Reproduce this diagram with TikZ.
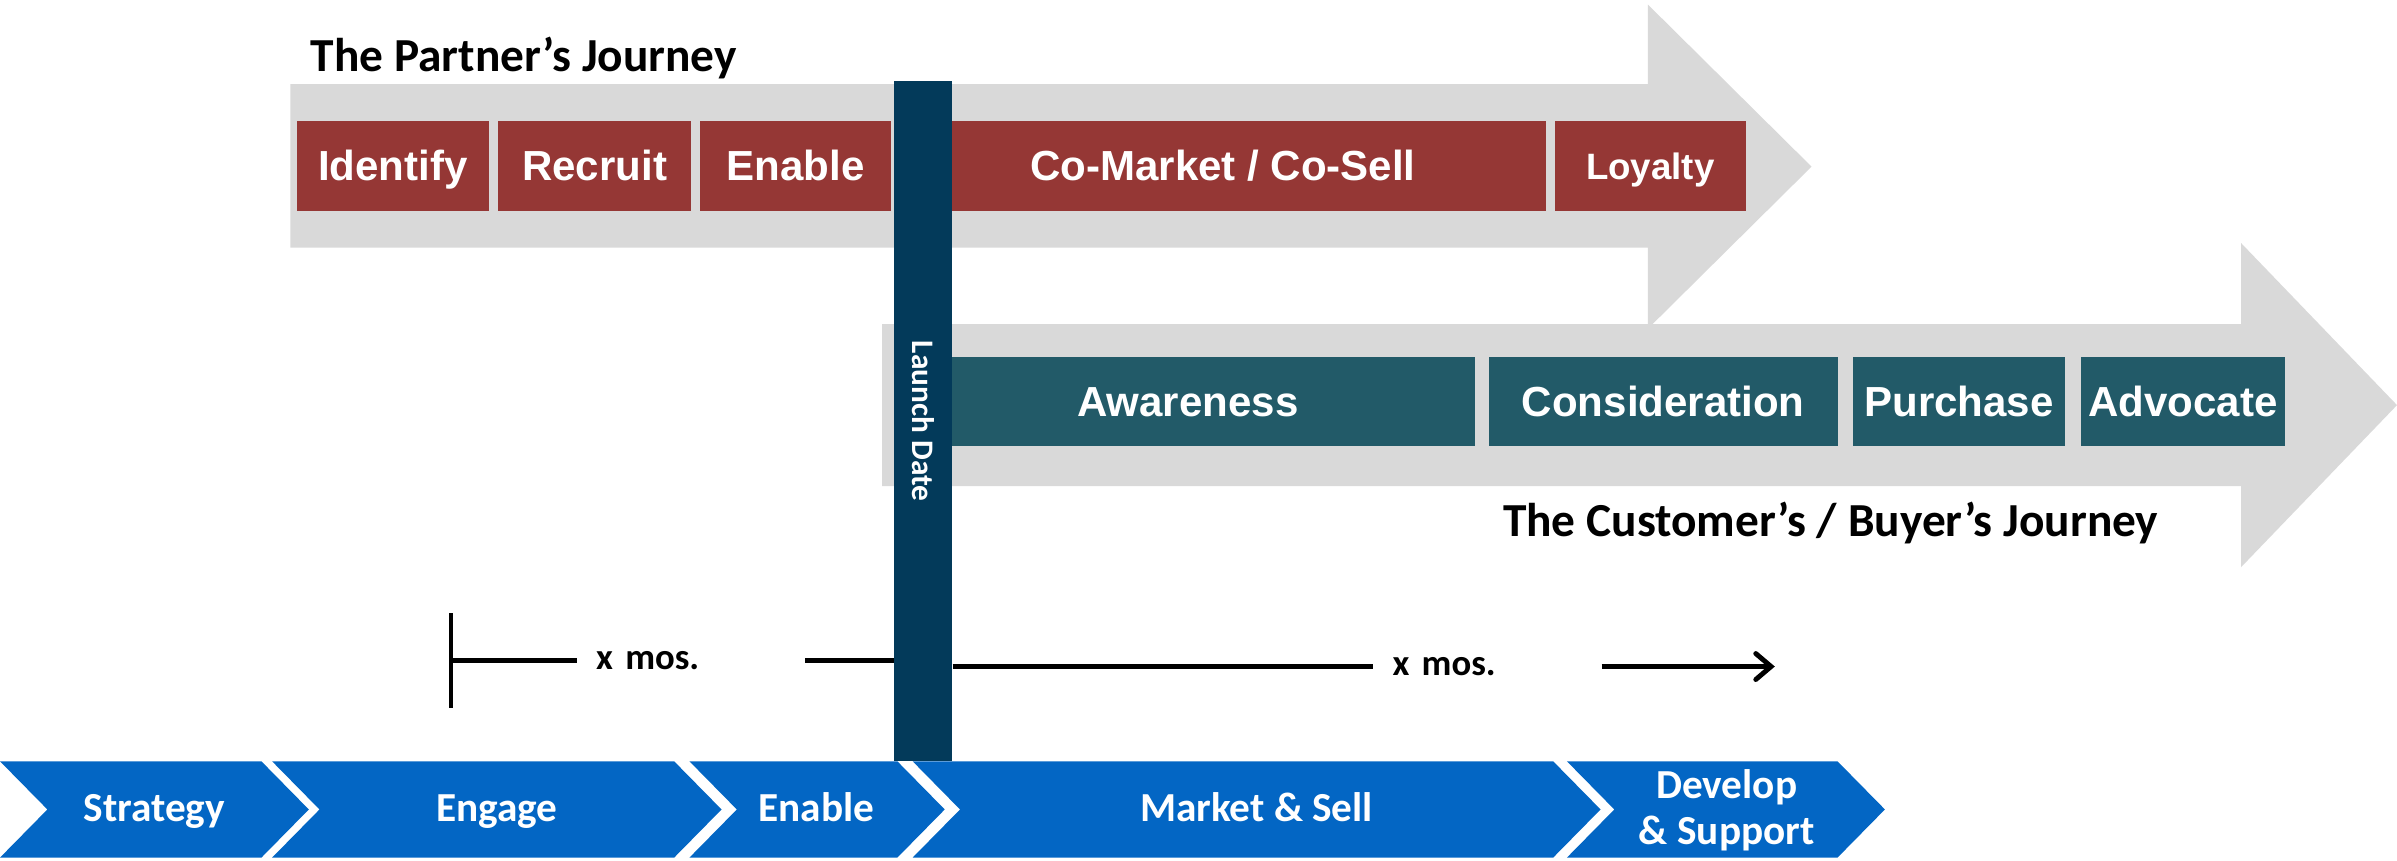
\documentclass[tikz,border=0pt]{standalone}
\usepackage{fontspec}
\newfontfamily\cali{Carlito}
\newfontfamily\aria{Liberation Sans}
\usetikzlibrary{arrows.meta}

\definecolor{arrowgray}{HTML}{D9D9D9}
\definecolor{partnerred}{HTML}{953735}
\definecolor{buyerteal}{HTML}{225A68}
\definecolor{launchnavy}{HTML}{033A5A}
\definecolor{phaseblue}{HTML}{0366C4}

\begin{document}
\begin{tikzpicture}[x=1pt, y=-1pt,
  stage/.style={inner sep=0pt, text height=19.5pt, text depth=0pt, text=white, font=\aria\bfseries\fontsize{27.5}{30}\selectfont},
  partner/.style={stage, fill=partnerred, minimum height=59pt},
  buyer/.style={stage, fill=buyerteal, minimum height=58.5pt},
  journey/.style={inner sep=0pt, anchor=base west, font=\cali\bfseries\fontsize{31}{36}\selectfont},
  phaselabel/.style={inner sep=0pt, text=white, align=center, font=\cali\bfseries\fontsize{27}{29.6}\selectfont},
  timeline/.style={line width=3.2pt},
  mos/.style={inner xsep=12.5pt, inner ysep=0pt, text width=124pt, align=left, font=\cali\bfseries\fontsize{24}{28}\selectfont}]

\useasboundingbox (0,0) rectangle (1568,563);

% partner journey arrow
\fill[arrowgray] (190,55) -- (1078,55) -- (1078,3) -- (1185,109) -- (1078,215) -- (1078,162) -- (190,162) -- cycle;
\node[journey] (partnertitle) at (203,47) {The Partner’s Journey};

% customer journey arrow
\fill[arrowgray] (577,212) -- (1466,212) -- (1466,159) -- (1568,265) -- (1466,371) -- (1466,318) -- (577,318) -- cycle;
\node[journey] (buyertitle) at (983,351) {The Customer’s / Buyer’s Journey};

% partner stages
\node[partner, minimum width=126pt] (identify) at (257,108.5) {Identify};
\node[partner, minimum width=126pt] (recruit) at (389,108.5) {Recruit};
\node[partner, minimum width=125pt] (enable) at (520.5,108.5) {Enable};
\node[partner, minimum width=422pt] (comarket) at (800,108.5) {Co-Market / Co-Sell};
\node[partner, minimum width=125pt, text height=17.2pt, font=\aria\bfseries\fontsize{24}{28}\selectfont] (loyalty) at (1079.5,108.5) {Loyalty};

% buyer stages
\node[buyer, minimum width=376pt] (awareness) at (777,262.75) {Awareness};
\node[buyer, minimum width=228pt] (consideration) at (1088,262.75) {Consideration};
\node[buyer, minimum width=139pt] (purchase) at (1281.5,262.75) {Purchase};
\node[buyer, minimum width=134pt] (advocate) at (1428,262.75) {Advocate};

% launch date bar
\node[fill=launchnavy, inner sep=0pt, minimum width=38pt, minimum height=445pt] (launch) at (604,275.5) {};
\node[rotate=-90, inner sep=0pt, text=white, font=\cali\bfseries\fontsize{20.5}{24}\selectfont] (launchlabel) at (launch) {Launch Date};

% program phases
\foreach \l/\r in {0/171, 178/441, 451/587, 597/1016, 1025/1202}
  \fill[phaseblue] (\l,498) -- (\r,498) -- (\r+31,529.5) -- (\r,561) -- (\l,561) -- (\l+31,529.5) -- cycle;
\node[phaselabel, anchor=base] (strategy) at (101,537.5) {Strategy};
\node[phaselabel, anchor=base] (engage) at (325,537.5) {Engage};
\node[phaselabel, anchor=base] (enablephase) at (534,537.5) {Enable};
\node[phaselabel, anchor=base] (marketsell) at (822,537.5) {Market \& Sell};
\node[phaselabel] (develop) at (1129.5,530) {Develop\\\& Support};

% months before and after launch
\draw[timeline] (295,401) -- (295,463);
\coordinate (start) at (295,432);
\node[mos] (mos1) at (452,432) {x mos.};
\draw[timeline] (start) -- (mos1.west);
\draw[timeline] (mos1.east) -- (mos1.east -| launch.west);

\node[mos] (mos2) at (973,436) {x mos.};
\coordinate (finish) at (1161,436);
\draw[timeline] (mos2.west -| launch.east) -- (mos2.west);
\draw[timeline, -{Straight Barb[length=10pt, width=17pt, line cap=round]}] (mos2.east) -- (finish);

\end{tikzpicture}
\end{document}
